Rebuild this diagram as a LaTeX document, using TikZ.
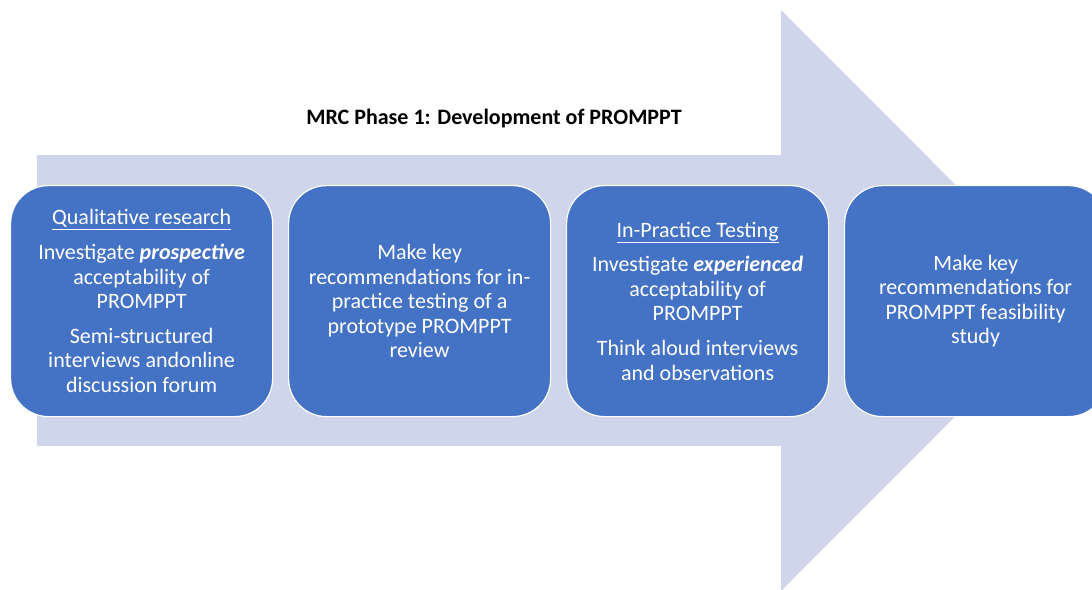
\documentclass[tikz,border=0pt]{standalone}
\usepackage{fontspec}
\setmainfont{Carlito}
\definecolor{boxblue}{HTML}{4472C4}
\definecolor{arrowfill}{HTML}{CFD5EA}
\begin{document}
\begin{tikzpicture}[x=1pt,y=-1pt,
  stage/.style={draw=white, line width=1.2pt, fill=boxblue, rounded corners=38pt,
    minimum width=262pt, minimum height=231pt, anchor=north west, text=white,
    align=center, font=\fontsize{22}{24.6}\selectfont, inner sep=0pt},
  title/.style={font=\bfseries\fontsize{22}{26}\selectfont, text=black}
  ]
\useasboundingbox (0,0) rectangle (1092,589);
\clip (0,0) rectangle (1092,589);
\fill[arrowfill] (37,155) -- (781,155) -- (781,10) -- (1071,300.5) -- (781,591) -- (781,446) -- (37,446) -- cycle;
\node[title] (t) at (494,119) {MRC Phase 1: Development of PROMPPT};
\node[stage] (b1) at (10,185) {\underline{Qualitative research}\\[10pt]
  Investigate \textbf{\textit{prospective}}\\ acceptability of\\ PROMPPT\\[10pt]
  Semi-structured\\ interviews andonline\\ discussion forum};
\node[stage] (b2) at (288,185) {Make key\\ recommendations for in-\\ practice testing of a\\ prototype PROMPPT\\ review};
\node[stage] (b3) at (566,185) {\underline{In-Practice Testing}\\[10pt]
  Investigate \textbf{\textit{experienced}}\\ acceptability of\\ PROMPPT\\[10pt]
  Think aloud interviews\\ and observations};
\node[stage] (b4) at (844,185) {Make key\\ recommendations for\\ PROMPPT feasibility\\ study};
\end{tikzpicture}
\end{document}
